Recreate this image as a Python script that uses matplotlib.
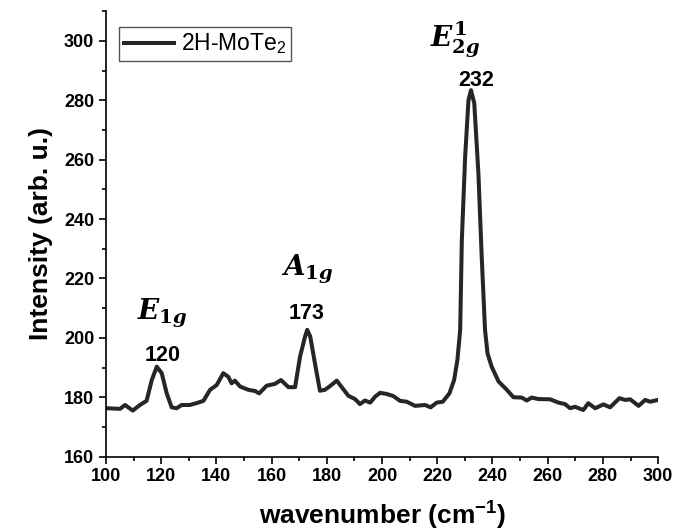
import matplotlib
matplotlib.use("Agg")
import matplotlib.pyplot as plt
from matplotlib.ticker import MultipleLocator

# Raman spectrum
wavenumber = [
    100.2, 105.1, 106.9, 109.7, 112.3, 114.7, 116.6, 118.4, 120.2, 122.0,
    123.8, 125.6, 127.4, 130.4, 133.4, 135.3, 137.7, 140.1, 142.5, 144.3,
    145.5, 146.7, 148.6, 151.6, 154.0, 155.5, 158.2, 161.2, 163.4, 166.1,
    168.5, 170.3, 172.1, 172.9, 174.0, 175.7, 177.5, 179.3, 181.2, 183.6,
    185.4, 187.8, 190.2, 192.0, 193.8, 195.7, 197.5, 199.3, 201.7, 204.1,
    206.5, 208.9, 212.0, 215.6, 217.6, 219.8, 222.0, 224.4, 226.1, 227.3,
    228.3, 228.9, 230.1, 231.3, 232.2, 233.4, 234.9, 236.1, 237.3, 238.2,
    239.7, 242.2, 245.2, 247.6, 250.6, 252.4, 254.2, 256.6, 260.9, 263.9,
    266.3, 268.1, 269.9, 272.9, 274.7, 277.2, 280.2, 282.6, 286.0, 288.0,
    289.9, 292.9, 295.3, 297.1, 299.9,
]
intensity = [
    176.3, 176.1, 177.4, 175.5, 177.4, 178.8, 185.8, 190.3, 188.1, 181.3,
    176.6, 176.3, 177.4, 177.4, 178.2, 178.8, 182.5, 184.1, 188.1, 186.9,
    184.7, 185.6, 183.6, 182.5, 182.1, 181.3, 183.9, 184.5, 185.8, 183.4,
    183.4, 193.7, 200.4, 202.7, 200.4, 191.4, 182.2, 182.5, 183.8, 185.6,
    183.4, 180.5, 179.4, 177.7, 178.9, 178.2, 180.2, 181.5, 181.1, 180.4,
    178.8, 178.5, 177.1, 177.4, 176.6, 178.2, 178.5, 181.3, 185.8, 192.6,
    202.7, 233.0, 261.0, 280.0, 283.4, 279.0, 255.4, 227.3, 202.7, 194.8,
    190.3, 185.3, 182.5, 180.0, 179.9, 178.9, 179.9, 179.4, 179.3, 178.2,
    177.7, 176.3, 176.8, 175.7, 178.0, 176.3, 177.6, 176.6, 179.7, 179.1,
    179.3, 177.1, 179.1, 178.5, 179.1,
]

peak_labels = ["120", "173", "232"]
peak_label_pos = [(120.5, 194.0), (172.7, 208.1), (234.0, 286.8)]
mode_labels = [r"$E_{1g}$", r"$A_{1g}$", r"$E^{1}_{2g}$"]
mode_label_pos = [(120.3, 208.4), (172.8, 222.9), (226.4, 300.3)]

plt.rcParams["font.family"] = "Liberation Sans"
plt.rcParams["mathtext.fontset"] = "custom"
plt.rcParams["mathtext.it"] = "DejaVu Serif:italic:bold"
plt.rcParams["mathtext.rm"] = "DejaVu Serif:bold"
plt.rcParams["mathtext.bf"] = "DejaVu Serif:bold"

fig = plt.figure(figsize=(6.75, 5.31), dpi=100)
ax = fig.add_axes([0.157, 0.140, 0.818, 0.839])

ax.plot(wavenumber, intensity, color="#262626", lw=2.9, label="2H-MoTe$_\\mathregular{2}$")

ax.set_xlim(100, 300)
ax.set_ylim(160, 310)
ax.xaxis.set_major_locator(MultipleLocator(20))
ax.xaxis.set_minor_locator(MultipleLocator(10))
ax.yaxis.set_major_locator(MultipleLocator(20))
ax.yaxis.set_minor_locator(MultipleLocator(10))
ax.set_yticks(range(160, 301, 20))

for s in ["top", "right"]:
    ax.spines[s].set_visible(False)
for s in ["left", "bottom"]:
    ax.spines[s].set_linewidth(1.2)

ax.tick_params(which="major", direction="out", length=5, width=1.2,
               labelsize=13)
ax.tick_params(which="minor", direction="out", length=3, width=1.2)
for lab in ax.get_xticklabels() + ax.get_yticklabels():
    lab.set_fontweight("bold")

ax.set_xlabel("wavenumber (cm$^\\mathregular{-1}$)", fontsize=19,
              fontweight="bold", labelpad=10)
ax.set_ylabel("Intensity (arb. u.)", fontsize=19, fontweight="bold",
              labelpad=8)

for txt, (x, y) in zip(peak_labels, peak_label_pos):
    ax.text(x, y, txt, fontsize=15.5, fontweight="bold",
            ha="center", va="center")
for txt, (x, y) in zip(mode_labels, mode_label_pos):
    ax.text(x, y, txt, fontsize=20, ha="center", va="center")

leg = ax.legend(loc="upper left", bbox_to_anchor=(0.0236, 0.9645),
                borderaxespad=0, fontsize=16.5, handlelength=2.2,
                handletextpad=0.3, borderpad=0.2, fancybox=False,
                framealpha=1)
leg.get_frame().set_edgecolor("#555555")
leg.get_frame().set_linewidth(1.0)

fig.savefig("out.png", dpi=100)
